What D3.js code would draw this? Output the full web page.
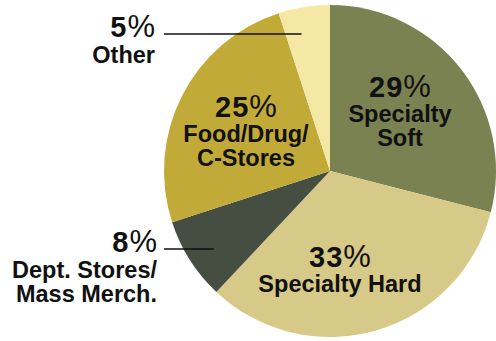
<!DOCTYPE html>
<html>
<head>
<meta charset="utf-8">
<script src="https://cdn.jsdelivr.net/npm/d3@7"></script>
<style>
  html, body { margin: 0; padding: 0; background: #fff; }
  svg { display: block; }
  text { font-family: "Liberation Sans", Arial, sans-serif; fill: #111; }
</style>
</head>
<body>
<svg id="chart" width="496" height="341"></svg>
<script>
// Share of sales by channel (percent), clockwise from 12 o'clock
const categories = ["Specialty Soft", "Specialty Hard", "Dept. Stores/Mass Merch.", "Food/Drug/C-Stores", "Other"];
const shares = [29, 33, 8, 25, 5];
const labelLines = [
  ["Specialty", "Soft"],
  ["Specialty Hard"],
  ["Dept. Stores/", "Mass Merch."],
  ["Food/Drug/", "C-Stores"],
  ["Other"]
];
const colors = ["#7a8252", "#d7c988", "#454e40", "#c1aa38", "#f4e8a4"];

const W = 496, H = 341;
const cx = 330, cy = 171, R = 166;

// Label placement: inside labels are centred on an anchor point;
// outside labels are right-aligned with a leader line running into the slice.
const layout = [
  { mode: "in", x: 400, y: 97 },
  { mode: "in", x: 340, y: 267 },
  { mode: "out", x: 157, y: 252, lineY: 249, lineX0: 164, lineR: 0.843 },
  { mode: "in", x: 246, y: 117 },
  { mode: "out", x: 155, y: 37, lineY: 34, lineX0: 164, lineR: 0.843 }
];

const svg = d3.select("#chart");
const g = svg.append("g").attr("transform", `translate(${cx},${cy})`);

const pie = d3.pie().sort(null).value(d => d.value).startAngle(0).endAngle(2 * Math.PI);
const data = categories.map((c, i) => ({ name: c, value: shares[i], lines: labelLines[i], color: colors[i], lay: layout[i] }));
const arcs = pie(data);
const arc = d3.arc().innerRadius(0).outerRadius(R);

g.selectAll("path.slice")
  .data(arcs)
  .join("path")
  .attr("class", "slice")
  .attr("d", arc)
  .attr("fill", d => d.data.color);

// Leader lines for the small slices
arcs.filter(d => d.data.lay.mode === "out").forEach(d => {
  const L = d.data.lay;
  // end point: where the horizontal line at lineY reaches lineR * R inside the slice
  const dy = L.lineY - cy;
  const r = R * L.lineR;
  const ex = cx - Math.sqrt(Math.max(r * r - dy * dy, 0));
  svg.append("line")
    .attr("x1", L.lineX0).attr("x2", ex)
    .attr("y1", L.lineY).attr("y2", L.lineY)
    .attr("stroke", "#111").attr("stroke-width", 1.5);
});

// Labels: bold figure with a lighter percent sign, then the channel name
arcs.forEach(d => {
  const L = d.data.lay;
  const anchor = L.mode === "in" ? "middle" : "end";
  const t = svg.append("text")
    .attr("x", L.x).attr("y", L.y)
    .attr("text-anchor", anchor)
    .style("font-size", "29px");
  t.append("tspan").attr("font-weight", "bold").style("letter-spacing", "1px").text(d.data.value);
  t.append("tspan").attr("font-weight", "normal").style("font-size", "31px").text("%");

  d.data.lines.forEach((ln, j) => {
    svg.append("text")
      .attr("x", L.x)
      .attr("y", L.y + (L.mode === "in" ? 25 : 26) + j * 24)
      .attr("text-anchor", anchor)
      .attr("font-weight", "bold")
      .style("font-size", "23.5px")
      .text(ln);
  });
});
</script>
</body>
</html>
